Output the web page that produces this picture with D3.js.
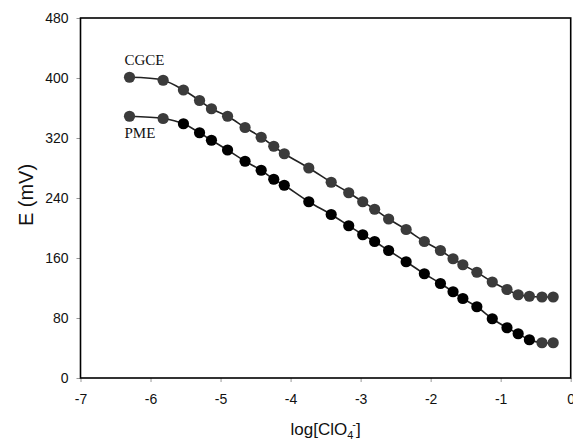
<!DOCTYPE html>
<html>
<head>
<meta charset="utf-8">
<script src="https://cdn.jsdelivr.net/npm/d3@7/dist/d3.min.js"></script>
<style>
  html, body { margin: 0; padding: 0; background: #fff; }
  svg { display: block; }
</style>
</head>
<body>
<div id="chart"></div>
<script>
// log of perchlorate concentration (shared by both electrodes)
const logConc = [-6.30, -5.82, -5.53, -5.30, -5.13, -4.90, -4.65, -4.42, -4.24, -4.09,
                 -3.74, -3.42, -3.17, -2.97, -2.80, -2.60, -2.35, -2.09, -1.86, -1.68,
                 -1.54, -1.34, -1.12, -0.91, -0.75, -0.59, -0.41, -0.25];
// potential response, mV
const cgce = [401, 397, 384, 370, 359, 349, 334, 321, 309, 299,
              280, 261, 247, 235, 225, 212, 198, 182, 170, 159,
              151, 141, 128, 118, 111, 109, 108, 108];
const pme  = [349, 346, 339, 327, 317, 304, 289, 277, 265, 257,
              235, 218, 203, 191, 182, 170, 155, 139, 126, 115,
              106, 95, 79, 67, 59, 51, 47, 47];
const xTicks = [-7, -6, -5, -4, -3, -2, -1, 0];
const yTicks = [0, 80, 160, 240, 320, 400, 480];
const seriesNames = ["CGCE", "PME"];

const W = 573, H = 441;
const m = { left: 80.5, right: 2.3, top: 18, bottom: 63 };

const svg = d3.select("#chart").append("svg")
  .attr("width", W).attr("height", H);

const x = d3.scaleLinear().domain([-7, 0]).range([m.left, W - m.right]);
const y = d3.scaleLinear().domain([0, 480]).range([H - m.bottom, m.top]);

const sans = "'Liberation Sans', Arial, sans-serif";
const serif = "'Liberation Serif', 'Times New Roman', serif";

// plain hyphen for negative tick values
const fmt = d => String(d);

// axes with short outward ticks
const xAxis = svg.append("g")
  .attr("transform", `translate(0,${y(0)})`)
  .call(d3.axisBottom(x).tickValues(xTicks).tickSize(4).tickPadding(12).tickFormat(fmt));
const yAxis = svg.append("g")
  .attr("transform", `translate(${x(-7)},0)`)
  .call(d3.axisLeft(y).tickValues(yTicks).tickSize(4).tickPadding(8).tickFormat(fmt));

[xAxis, yAxis].forEach(g => {
  g.select(".domain").remove();
  g.selectAll(".tick line").attr("stroke", "#999").attr("stroke-width", 1);
  g.selectAll(".tick text")
    .attr("fill", "#111")
    .style("font-family", sans)
    .style("font-size", "14px");
});

// plot frame
svg.append("rect")
  .attr("x", x(-7)).attr("y", y(480))
  .attr("width", x(0) - x(-7)).attr("height", y(0) - y(480))
  .attr("fill", "none").attr("stroke", "#000").attr("stroke-width", 1.6);

const line = d3.line()
  .x((d, i) => x(logConc[i]))
  .y(d => y(d))
  .curve(d3.curveCatmullRom.alpha(0.5));

const grey = "#3b3b3b";
const black = "#000";

function drawSeries(vals, fillFn) {
  svg.append("path")
    .datum(vals)
    .attr("d", line)
    .attr("fill", "none")
    .attr("stroke", "#222")
    .attr("stroke-width", 1.6);
  svg.append("g").selectAll("circle")
    .data(vals)
    .join("circle")
    .attr("cx", (d, i) => x(logConc[i]))
    .attr("cy", d => y(d))
    .attr("r", 5.6)
    .attr("fill", fillFn);
}

drawSeries(cgce, () => grey);
drawSeries(pme, (d, i) => (i < 2 || i >= pme.length - 2) ? grey : black);

// series labels
svg.append("text")
  .attr("x", x(logConc[0]) - 5).attr("y", y(cgce[0]) - 12)
  .style("font-family", serif).style("font-size", "15px").attr("fill", "#111")
  .text(seriesNames[0]);
svg.append("text")
  .attr("x", x(logConc[0]) - 5).attr("y", y(pme[0]) + 22)
  .style("font-family", serif).style("font-size", "15px").attr("fill", "#111")
  .text(seriesNames[1]);

// axis titles
const xt = svg.append("text")
  .attr("x", (x(-7) + x(0)) / 2)
  .attr("y", 435)
  .attr("text-anchor", "middle")
  .style("font-family", sans).style("font-size", "17px").attr("fill", "#111");
xt.append("tspan").text("log[ClO");
xt.append("tspan").attr("dy", 4).style("font-size", "11px").text("4");
xt.append("tspan").attr("dy", -11).attr("dx", -1).style("font-size", "11px").text("-");
xt.append("tspan").attr("dy", 7).text("]");

svg.append("text")
  .attr("transform", `translate(33,${195}) rotate(-90)`)
  .attr("text-anchor", "middle")
  .style("font-family", sans).style("font-size", "20px").attr("fill", "#111")
  .text("E (mV)");
</script>
</body>
</html>
